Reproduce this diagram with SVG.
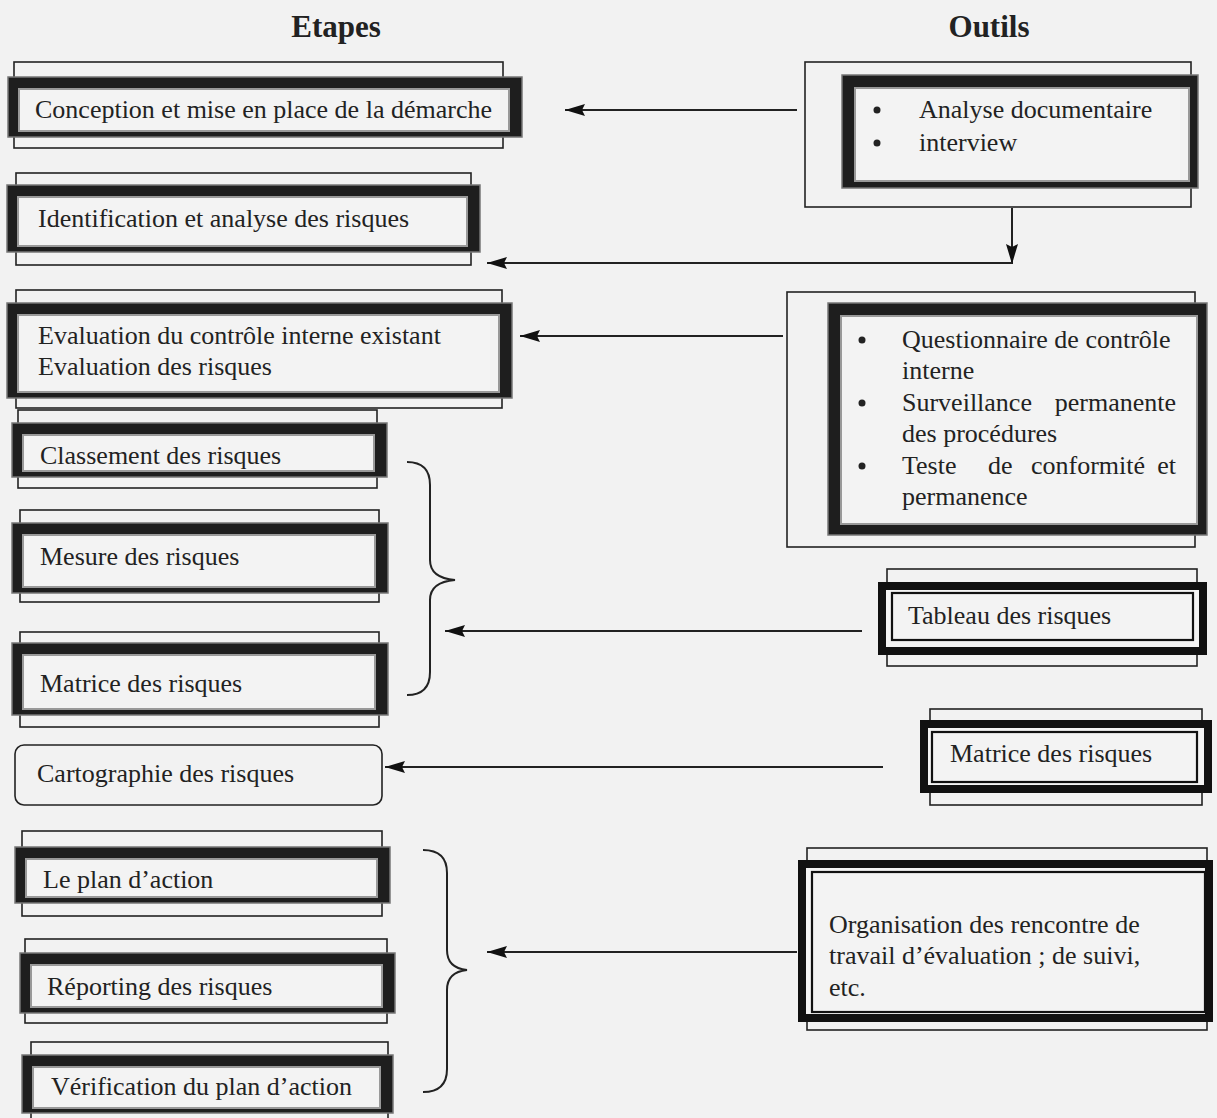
<svg xmlns="http://www.w3.org/2000/svg" width="1217" height="1118" viewBox="0 0 1217 1118">
<style>
text{font-family:"Liberation Serif","Times New Roman",serif;font-size:26px;fill:#222}
.hd{font-weight:bold;font-size:31px;text-anchor:middle}
.thin{fill:none;stroke:#222;stroke-width:1.6}
.frm{fill:#1e1e1e;stroke:#777;stroke-width:1.5}
.inr{fill:#f3f3f3;stroke:#999;stroke-width:2}
.dbl{fill:#f3f3f3;stroke:#111;stroke-width:8}
.inl{fill:none;stroke:#111;stroke-width:2.2}
.conn{fill:none;stroke:#222;stroke-width:2}
.brace{fill:none;stroke:#222;stroke-width:2}
</style>
<defs>
<marker id="ah" markerUnits="userSpaceOnUse" markerWidth="22" markerHeight="14" refX="20" refY="7" orient="auto">
<path d="M0,1 L20,7 L0,13 L3,7 z" fill="#111"/>
</marker>
</defs>
<rect width="1217" height="1118" fill="#f2f2f2"/>

<g id="headers">
<text class="hd" x="336" y="37">Etapes</text>
<text class="hd" x="989" y="37">Outils</text>
</g>

<g id="step1">
<rect class="thin" x="14" y="62" width="489" height="86"/>
<rect class="frm" x="8" y="77" width="514" height="60"/>
<rect class="inr" x="19" y="89" width="490" height="42"/>
<text x="35" y="118">Conception et mise en place de la démarche</text>
</g>

<g id="step2">
<rect class="thin" x="16" y="173" width="455" height="92"/>
<rect class="frm" x="7" y="185" width="473" height="67"/>
<rect class="inr" x="18" y="197" width="449" height="49"/>
<text x="38" y="227">Identification et analyse des risques</text>
</g>

<g id="step3">
<rect class="thin" x="16" y="290" width="486" height="118"/>
<rect class="frm" x="7" y="303" width="505" height="95"/>
<rect class="inr" x="18" y="315" width="481" height="77"/>
<text x="38" y="344">Evaluation du contrôle interne existant</text>
<text x="38" y="375">Evaluation des risques</text>
</g>

<g id="step4">
<rect class="thin" x="18" y="410" width="359" height="78"/>
<rect class="frm" x="12" y="423" width="375" height="54"/>
<rect class="inr" x="23" y="435" width="351" height="36"/>
<text x="40" y="464">Classement des risques</text>
</g>

<g id="step5">
<rect class="thin" x="20" y="510" width="359" height="92"/>
<rect class="frm" x="12" y="523" width="376" height="70"/>
<rect class="inr" x="23" y="535" width="352" height="52"/>
<text x="40" y="565">Mesure des risques</text>
</g>

<g id="step6">
<rect class="thin" x="20" y="632" width="359" height="95"/>
<rect class="frm" x="12" y="643" width="376" height="72"/>
<rect class="inr" x="23" y="655" width="352" height="54"/>
<text x="40" y="692">Matrice des risques</text>
</g>

<g id="step7">
<rect class="thin" x="15" y="745" width="367" height="60" rx="9"/>
<text x="37" y="782">Cartographie des risques</text>
</g>

<g id="step8">
<rect class="thin" x="22" y="831" width="360" height="85"/>
<rect class="frm" x="15" y="847" width="375" height="56"/>
<rect class="inr" x="26" y="859" width="351" height="38"/>
<text x="43" y="888">Le plan d’action</text>
</g>

<g id="step9">
<rect class="thin" x="25" y="939" width="362" height="84"/>
<rect class="frm" x="20" y="953" width="375" height="60"/>
<rect class="inr" x="31" y="965" width="351" height="42"/>
<text x="47" y="995">Réporting des risques</text>
</g>

<g id="step10">
<rect class="thin" x="31" y="1042" width="357" height="80"/>
<rect class="frm" x="22" y="1055" width="371" height="58"/>
<rect class="inr" x="33" y="1067" width="347" height="41"/>
<text x="51" y="1095">Vérification du plan d’action</text>
</g>

<g id="tool1">
<rect class="thin" x="805" y="62" width="386" height="145"/>
<rect class="frm" x="842" y="75" width="356" height="113"/>
<rect class="inr" x="855" y="88" width="334" height="93"/>
<circle cx="877" cy="110" r="3.5" fill="#222"/>
<circle cx="877" cy="143" r="3.5" fill="#222"/>
<text x="919" y="118">Analyse documentaire</text>
<text x="919" y="151">interview</text>
</g>

<g id="tool2">
<rect class="thin" x="787" y="292" width="408" height="255"/>
<rect class="frm" x="828" y="303" width="379" height="232"/>
<rect class="inr" x="841" y="316" width="356" height="208"/>
<circle cx="862" cy="340" r="3.5" fill="#222"/>
<circle cx="862" cy="403" r="3.5" fill="#222"/>
<circle cx="862" cy="466" r="3.5" fill="#222"/>
<text x="902" y="348">Questionnaire de contrôle</text>
<text x="902" y="379">interne</text>
<text x="902" y="411">Surveillance</text>
<text x="1176" y="411" text-anchor="end">permanente</text>
<text x="902" y="442">des procédures</text>
<text x="902" y="474">Teste</text>
<text x="988" y="474">de</text>
<text x="1031" y="474">conformité</text>
<text x="1176" y="474" text-anchor="end">et</text>
<text x="902" y="505">permanence</text>
</g>

<g id="tool3">
<rect class="thin" x="887" y="569" width="310" height="97"/>
<rect class="dbl" x="882" y="586" width="321" height="65"/>
<rect class="inl" x="892" y="593" width="301" height="47"/>
<text x="908" y="624">Tableau des risques</text>
</g>

<g id="tool4">
<rect class="thin" x="930" y="709" width="272" height="96"/>
<rect class="dbl" x="924" y="724" width="284" height="65"/>
<rect class="inl" x="932" y="732" width="265" height="50"/>
<text x="950" y="762">Matrice des risques</text>
</g>

<g id="tool5">
<rect class="thin" x="807" y="848" width="400" height="182"/>
<rect class="dbl" x="802" y="864" width="407" height="154"/>
<rect class="inl" x="812" y="872" width="393" height="140"/>
<text x="829" y="933">Organisation des rencontre de</text>
<text x="829" y="964">travail d’évaluation ; de suivi,</text>
<text x="829" y="996">etc.</text>
</g>

<g id="braces">
<path class="brace" d="M407,462 Q430,462 430,485 L430,560 Q430,578 455,580 Q430,582 430,600 L430,672 Q430,695 407,695"/>
<path class="brace" d="M423,850 Q447,850 447,873 L447,950 Q447,968 467,970 Q447,972 447,990 L447,1069 Q447,1092 423,1092"/>
</g>

<g id="connectors">
<path class="conn" d="M797,110 L565,110" marker-end="url(#ah)"/>
<path class="conn" d="M1012,208 L1012,264" marker-end="url(#ah)"/>
<path class="conn" d="M1012,263 L487,263" marker-end="url(#ah)"/>
<path class="conn" d="M783,336 L520,336" marker-end="url(#ah)"/>
<path class="conn" d="M862,631 L445,631" marker-end="url(#ah)"/>
<path class="conn" d="M883,767 L385,767" marker-end="url(#ah)"/>
<path class="conn" d="M797,952 L487,952" marker-end="url(#ah)"/>
</g>
</svg>
